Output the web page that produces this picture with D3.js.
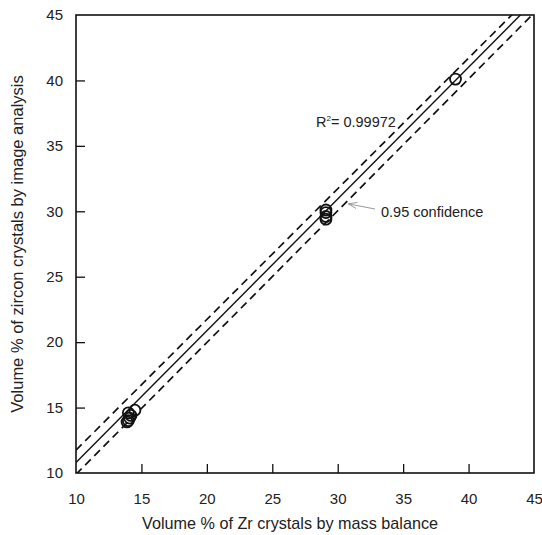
<!DOCTYPE html>
<html>
<head>
<meta charset="utf-8">
<script src="https://cdn.jsdelivr.net/npm/d3@7"></script>
<style>
  body { margin: 0; background: #fff; }
  text { font-family: "Liberation Sans", Arial, sans-serif; fill: #222; }
</style>
</head>
<body>
<div class="holder"></div>
<script>
// measured points (x = mass balance, y = image analysis)
var massBalance = [14.0, 14.5, 14.2, 14.0, 14.1, 13.9, 29.1, 29.1, 29.1, 29.1, 39.0];
var imageAnalysis = [14.6, 14.8, 14.4, 14.0, 14.2, 13.9, 30.1, 29.9, 29.6, 29.4, 40.1];
var tickValues = [10, 15, 20, 25, 30, 35, 40, 45];
// regression line and 0.95 confidence band, as [x, y] ends
var fitX = [10, 45];
var fitY = [10.8, 46.05];
var upperY = [11.75, 46.7];
var lowerY = [9.9, 45.15];
var rSquared = "0.99972";

var margin = {top: 15, right: 8, bottom: 62, left: 76};
var width = 542 - margin.left - margin.right;
var height = 535 - margin.top - margin.bottom;

var scaleX = d3.scaleLinear().domain([10, 45]).range([0, width]);
var scaleY = d3.scaleLinear().domain([10, 45]).range([height, 0]);

var svg = d3.select(".holder").append("svg")
    .attr("width", 542).attr("height", 535);

var defs = svg.append("defs");
defs.append("clipPath").attr("id", "plotclip")
  .append("rect").attr("width", width).attr("height", height);

defs.append("marker")
    .attr("id", "arrow").attr("viewBox", "0 0 10 10")
    .attr("refX", 9).attr("refY", 5)
    .attr("markerWidth", 9).attr("markerHeight", 9)
    .attr("markerUnits", "userSpaceOnUse")
    .attr("orient", "auto")
  .append("path").attr("d", "M0,1.5 L10,5 L0,8.5")
    .attr("fill", "none").attr("stroke", "#999").attr("stroke-width", 1);

var grp = svg.append("g").attr("transform", `translate(${margin.left}, ${margin.top})`);

/* lines first, clipped to plot */
var lines = grp.append("g").attr("clip-path", "url(#plotclip)");
var line = d3.line().x(d => scaleX(d[0])).y(d => scaleY(d[1]));
lines.append("path").datum(fitX.map((x, i) => [x, fitY[i]]))
  .attr("d", line).attr("fill", "none").attr("stroke", "#111").attr("stroke-width", 1.4);
[upperY, lowerY].forEach(function(ys){
  lines.append("path").datum(fitX.map((x, i) => [x, ys[i]]))
    .attr("d", line).attr("fill", "none").attr("stroke", "#111")
    .attr("stroke-width", 1.7).attr("stroke-dasharray", "8,5");
});

/* points */
grp.selectAll("circle.dot")
  .data(massBalance.map((x, i) => ({x: x, y: imageAnalysis[i]})))
  .enter().append("circle")
  .attr("class", "dot")
  .attr("r", 5.5)
  .attr("cx", d => scaleX(d.x))
  .attr("cy", d => scaleY(d.y))
  .attr("fill", "none").attr("stroke", "#111").attr("stroke-width", 1.8);

/* axes: ticks inside on left and bottom */
var ax = grp.append("g").attr("transform", `translate(0, ${height})`)
  .call(d3.axisBottom(scaleX).tickValues(tickValues).tickSizeInner(-9).tickSizeOuter(0).tickPadding(20));
var ay = grp.append("g")
  .call(d3.axisLeft(scaleY).tickValues(tickValues).tickSizeInner(-9).tickSizeOuter(0).tickPadding(13));
[ax, ay].forEach(function(a){
  a.select(".domain").remove();
  a.selectAll("line").attr("stroke", "#111").attr("stroke-width", 1.3);
  a.selectAll("text").style("font-size", "15px").attr("fill", "#222")
    .style("font-family", "'Liberation Sans', Arial, sans-serif");
  a.selectAll(".tick").filter(d => d == 10 || d == 45).select("line").remove();
});

grp.append("rect").attr("width", width).attr("height", height)
  .attr("fill", "none").attr("stroke", "#111").attr("stroke-width", 1.6);

/* annotations */
var r2 = grp.append("text").attr("x", 240).attr("y", 112).style("font-size", "14.5px");
r2.append("tspan").text("R");
r2.append("tspan").attr("dy", -6).style("font-size", "8px").text("2");
r2.append("tspan").attr("dy", 6).text("= " + rSquared);

grp.append("line")
  .attr("x1", 299).attr("y1", 194).attr("x2", 273).attr("y2", 189)
  .attr("stroke", "#999").attr("stroke-width", 1)
  .attr("marker-end", "url(#arrow)");
grp.append("text").attr("x", 305).attr("y", 202).style("font-size", "14.5px")
  .text("0.95 confidence");

/* axis titles */
svg.append("text")
  .attr("x", 290).attr("y", 529)
  .attr("text-anchor", "middle").style("font-size", "16.2px")
  .text("Volume % of Zr crystals by mass balance");

svg.append("text")
  .attr("transform", "rotate(270)")
  .attr("x", -244).attr("y", 23)
  .attr("text-anchor", "middle").style("font-size", "16.5px")
  .text("Volume % of zircon crystals by image analysis");
</script>
</body>
</html>
